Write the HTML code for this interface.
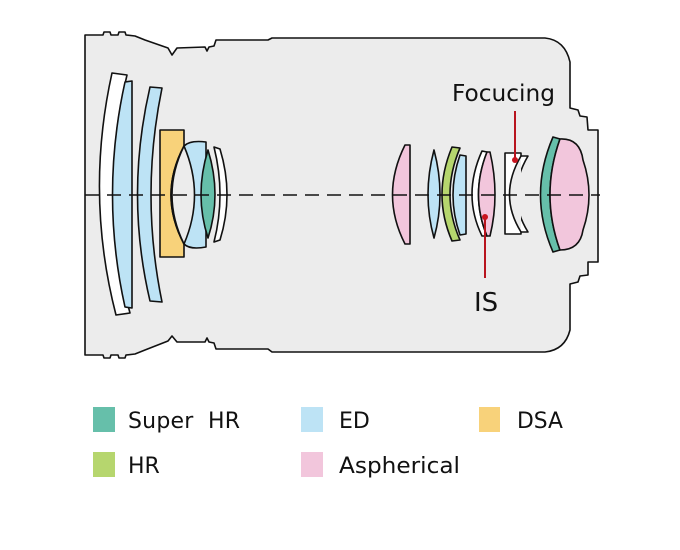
<!DOCTYPE html>
<html><head><meta charset="utf-8"><style>
html,body{margin:0;padding:0;background:#fff;width:680px;height:550px;overflow:hidden}
svg{display:block}
text{font-family:"DejaVu Sans","Liberation Sans",sans-serif;fill:#111}
</style></head><body>
<svg width="680" height="550" viewBox="0 0 680 550">
<g stroke="#111" stroke-width="1.6" stroke-linejoin="round">
<path fill="#ececec" d="M85,35 L103,35 L104,32 L110,32 L111,35 L118,35 L119,32 L125,32 L126,35 L135,36 L145,40 L168,48 L172,55 L177,48 L205,47 L207,51 L209,47 L214,46 L216,40 L268,40 L272,38 L545,38 Q565,40 570,62 L570,108 L578,110 L580,116 L587,117 L588,130 L598,130 L598,262 L588,262 L588,275 L580,276 L578,282 L570,284 L570,330 Q565,350 545,352 L272,352 L268,349 L216,349 L214,343 L209,342 L207,338 L205,342 L177,342 L172,336 L168,341 L145,350 L135,354 L126,355 L125,358 L119,358 L118,355 L111,355 L110,358 L104,358 L103,355 L85,355 Z"/>
<path fill="#fff" d="M112,73 L127,75 Q98,195 130,313 L116,315 Q85,195 112,73 Z"/>
<path fill="#bde3f5" d="M125,82 L132,81 L132,308 L125,307 Q100,195 125,82 Z"/>
<path fill="#bde3f5" d="M150,87 L162,88 Q140,195 162,302 L150,301 Q125,195 150,87 Z"/>
<path fill="#f8d27a" d="M160,130 L184,130 L184,146 Q158,195 184,244 L184,257 L160,257 Z"/>
<path fill="#bde3f5" d="M184,146 Q190,140 206,142 L206,247 Q190,250 184,244 Q158,195 184,146 Z"/>
<path fill="#ececec" d="M184,146 Q205,195 184,244 Q160,195 184,146 Z"/>
<path fill="#66bfaa" d="M208,150 Q222,195 208,238 Q194,195 208,150 Z"/>
<path fill="#fff" d="M214,147 L220,149 Q234,195 220,240 L214,242 Q226,195 214,147 Z"/>
<path fill="#f2c6dc" d="M405,145 L410,145 L410,244 L405,244 Q380,195 405,145 Z"/>
<path fill="#bde3f5" d="M434,150 Q446,195 434,238 Q422,195 434,150 Z"/>
<path fill="#b6d66e" d="M452,147 L460,148 Q440,195 460,240 L452,241 Q432,195 452,147 Z"/>
<path fill="#bde3f5" d="M460,155 L466,156 L466,234 L460,235 Q446,195 460,155 Z"/>
<path fill="#fff" d="M482,151 L487,152 Q470,195 487,236 L482,236 Q462,195 482,151 Z"/>
<path fill="#f2c6dc" d="M487,152 L490,152 Q500,195 490,236 L487,236 Q470,195 487,152 Z"/>
<path fill="#fff" d="M505,153 L521,153 L521,156 L528,156 Q505,195 528,232 L521,232 L521,234 L505,234 Z"/>
<path fill="#ececec" d="M521,156 Q498,195 521,232" />
<path fill="#66bfaa" d="M553,137 L560,139 Q540,195 560,250 L553,252 Q528,195 553,137 Z"/>
<path fill="#f2c6dc" d="M560,139 Q580,138 583,160 Q595,195 583,230 Q580,250 560,250 Q540,195 560,139 Z"/>
</g>
<path d="M85,195 L600,195" stroke="#111" stroke-width="1.6" stroke-dasharray="14,8"/>
<g stroke="#b8141e" stroke-width="2">
<line x1="515" y1="111" x2="515" y2="160"/>
<line x1="485" y1="217" x2="485" y2="278"/>
</g>
<circle cx="515" cy="160" r="3" fill="#c8141e"/>
<circle cx="485" cy="217" r="3" fill="#c8141e"/>
<text x="452" y="101" font-size="23" textLength="103" lengthAdjust="spacingAndGlyphs">Focucing</text>
<text x="474" y="311" font-size="26">IS</text>
<rect x="93" y="407" width="22" height="25" fill="#66bfaa"/>
<rect x="301" y="407" width="22" height="25" fill="#bde3f5"/>
<rect x="479" y="407" width="21" height="25" fill="#f8d27a"/>
<rect x="93" y="452" width="22" height="25" fill="#b6d66e"/>
<rect x="301" y="452" width="22" height="25" fill="#f2c6dc"/>
<text x="128" y="428" font-size="22" textLength="112" lengthAdjust="spacing" xml:space="preserve">Super  HR</text>
<text x="339" y="428" font-size="22">ED</text>
<text x="517" y="428" font-size="22" textLength="46" lengthAdjust="spacingAndGlyphs">DSA</text>
<text x="128" y="473" font-size="22">HR</text>
<text x="339" y="473" font-size="22" textLength="121" lengthAdjust="spacingAndGlyphs">Aspherical</text>
</svg>
</body></html>
